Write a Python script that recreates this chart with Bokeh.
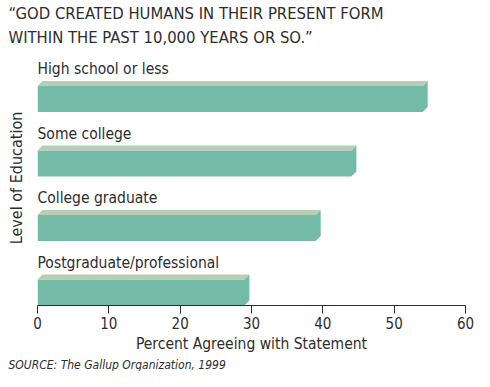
from bokeh.plotting import figure
from bokeh.models import ColumnDataSource, FixedTicker, Range1d, Title, LinearAxis
from bokeh.core.properties import value
from bokeh.embed import file_html
from bokeh.resources import INLINE

# ---- data ----
categories = ["Postgraduate/professional", "College graduate", "Some college", "High school or less"]
percent = [29, 39, 44, 54]
x_ticks = [0, 10, 20, 30, 40, 50, 60]
title_lines = ["\u201cGOD CREATED HUMANS IN THEIR PRESENT FORM",
               "WITHIN THE PAST 10,000 YEARS OR SO.\u201d"]
x_label = "Percent Agreeing with Statement"
y_label = "Level of Education"
source_note = "SOURCE: The Gallup Organization, 1999"

# ---- layout ----
W, H = 474, 371
B_LEFT, B_RIGHT, B_TOP, B_BOTTOM = 37, 9, 50, 66
frame_w = W - B_LEFT - B_RIGHT
frame_h = H - B_TOP - B_BOTTOM
XMAX = 60
px_x = frame_w / XMAX
px_y = 64.5
y_end = frame_h / px_y


def dx(px):
    return px / px_x


def dy(px):
    return px / px_y


FONT = "DejaVu Sans Condensed"
TEXT_COLOR = "#2d2d2d"
GREEN = "#74BBA7"
BEVEL = "#B9CCB5"

p = figure(width=W, height=H, output_backend="svg", toolbar_location=None,
           title=None,
           x_range=Range1d(0, XMAX), y_range=Range1d(0, y_end),
           x_axis_location=None, y_axis_location=None,
           min_border_left=B_LEFT, min_border_right=B_RIGHT,
           min_border_top=B_TOP, min_border_bottom=B_BOTTOM)
p.outline_line_color = None
p.xgrid.visible = False
p.ygrid.visible = False
p.background_fill_color = "white"
p.border_fill_color = "white"

# bars (front + right side in green, top bevel in light)
h = dy(26)
d = dx(5)
e = dy(5)
front_xs, front_ys, top_xs, top_ys = [], [], [], []
for i, v in enumerate(percent):
    b = i
    t = i + h
    front_xs.append([0, v, v + d, v + d, v, 0])
    front_ys.append([b, b, b + e, t + e, t, t])
    top_xs.append([0, v, v + d, d])
    top_ys.append([t, t, t + e, t + e])

p.patches(front_xs, front_ys, fill_color=GREEN, line_color=None)
p.patches(top_xs, top_ys, fill_color=BEVEL, line_color=None)

# category labels above bars
lab_src = ColumnDataSource(dict(x=[0] * len(categories),
                                y=[i + h + e + dy(12) for i in range(len(categories))],
                                text=categories))
p.text(x="x", y="y", text="text", source=lab_src, text_font=value(FONT),
       text_font_size="15.5px", text_color=TEXT_COLOR, text_baseline="middle",
       text_align="left")

# x axis (ticks)
ax = LinearAxis(ticker=FixedTicker(ticks=x_ticks))
ax.axis_line_color = TEXT_COLOR
ax.major_tick_line_color = TEXT_COLOR
ax.major_tick_in = 0
ax.major_tick_out = 8
ax.minor_tick_line_color = None
ax.major_label_text_font = FONT
ax.major_label_text_font_size = "15px"
ax.major_label_text_color = TEXT_COLOR
ax.major_label_standoff = 3
p.add_layout(ax, "below")

# x axis title
ax2 = LinearAxis(ticker=FixedTicker(ticks=[]))
ax2.axis_line_color = None
ax2.major_tick_line_color = None
ax2.minor_tick_line_color = None
ax2.major_tick_out = 0
ax2.major_label_text_font_size = "0px"
ax2.major_label_standoff = 0
ax2.axis_label = x_label
ax2.axis_label_text_font = FONT
ax2.axis_label_text_font_size = "15.5px"
ax2.axis_label_text_font_style = "normal"
ax2.axis_label_text_color = TEXT_COLOR
ax2.axis_label_standoff = 3
p.add_layout(ax2, "below")

# y axis: label only
ay = LinearAxis(ticker=FixedTicker(ticks=[]))
ay.axis_line_color = None
ay.major_tick_line_color = None
ay.minor_tick_line_color = None
ay.major_tick_out = 0
ay.major_label_text_font_size = "0px"
ay.major_label_standoff = 0
ay.axis_label = y_label
ay.axis_label_text_font = FONT
ay.axis_label_text_font_size = "16px"
ay.axis_label_text_font_style = "normal"
ay.axis_label_text_color = TEXT_COLOR
ay.axis_label_standoff = 12
p.add_layout(ay, "left")

# title lines (added inner first)
p.add_layout(Title(text=title_lines[1], align="left", offset=-29, standoff=7,
                   text_font=FONT, text_font_size="16.5px", text_font_style="normal",
                   text_line_height=0.7,
                   text_color=TEXT_COLOR), "above")
p.add_layout(Title(text=title_lines[0], align="left", offset=-29, standoff=0,
                   text_font=FONT, text_font_size="16.5px", text_font_style="normal",
                   text_line_height=0.7,
                   text_color=TEXT_COLOR), "above")

# source note
p.add_layout(Title(text=source_note, align="left", offset=-29, standoff=0,
                   text_font=FONT, text_font_size="12px", text_font_style="italic",
                   text_color=TEXT_COLOR), "below")

open("out.html", "w").write(file_html(p, INLINE))
